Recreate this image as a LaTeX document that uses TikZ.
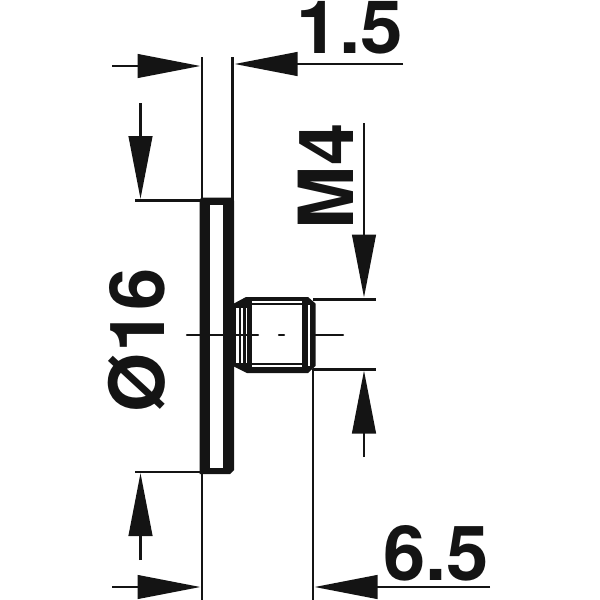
\documentclass[tikz,border=0pt]{standalone}
\usepackage{fontspec}
\setmainfont{TeX Gyre Heros}
\usetikzlibrary{arrows.meta}
\tikzset{
  x=1pt,y=-1pt,
  thinln/.style={line width=2.8pt,line cap=butt,black!92},
  dimarrow/.style={thinln,-{Triangle[length=63pt,width=23.5pt,sep=0pt]}},
  centerln/.style={line width=2.4pt,line cap=round,black!92},
  dimtext/.style={font=\fontsize{76}{76}\selectfont\bfseries,inner sep=0pt,outer sep=0pt,text=black!92},
  toptext/.style={font=\fontsize{73.5}{76}\selectfont\bfseries,inner sep=0pt,outer sep=0pt,text=black!92},
  solidpart/.style={fill=black!92,draw=none},
  slot/.style={fill=white,draw=none},
}
\begin{document}
\begin{tikzpicture}
\useasboundingbox (0,0) rectangle (600,600);
% named end points of the dimension lines
\coordinate (extA1) at (202,57);   \coordinate (extA2) at (202,600);
\coordinate (extB1) at (232.5,57); \coordinate (extB2) at (232.5,204);
\coordinate (extC1) at (313,369);  \coordinate (extC2) at (313,600);
\coordinate (t1) at (112,66);  \coordinate (h1) at (200.5,66);
\coordinate (t2) at (403,64);  \coordinate (h2) at (234.5,64);
\coordinate (t3) at (140.5,103); \coordinate (h3) at (140.5,199);
\coordinate (t4) at (140.5,560); \coordinate (h4) at (140.5,473);
\coordinate (t5) at (112,587); \coordinate (h5) at (200.5,587);
\coordinate (t6) at (490,587); \coordinate (h6) at (314.5,587);
\coordinate (t7) at (364,123); \coordinate (h7) at (364,297.5);
\coordinate (t8) at (364,457); \coordinate (h8) at (364,370.5);
\coordinate (e1) at (135,200.5); \coordinate (e2) at (203,200.5);
\coordinate (e3) at (135,472); \coordinate (e4) at (203,472);
\coordinate (e5) at (313,299.5); \coordinate (e6) at (376,299.5);
\coordinate (e7) at (313,369.5); \coordinate (e8) at (376,369.5);
\coordinate (c1) at (187,335); \coordinate (c2) at (258,335);
\coordinate (c3) at (279,335); \coordinate (c4) at (284,335);
\coordinate (c5) at (311,335); \coordinate (c6) at (343,335);
% extension lines
\draw[thinln] (extA1) -- (extA2);
\draw[thinln] (extB1) -- (extB2);
\draw[thinln] (extC1) -- (extC2);
\draw[thinln] (e1) -- (e2);
\draw[thinln] (e3) -- (e4);
\draw[thinln] (e5) -- (e6);
\draw[thinln] (e7) -- (e8);
% disc
\fill[solidpart] (202,197.5) -- (231,197.5) -- (234,200.5) -- (234,470) -- (230,474) -- (199.5,474) -- (199.5,199.5) -- cycle;
\fill[slot] (210,204.5) rectangle (223,468);
% threaded stud
\fill[solidpart] (233,304) -- (246,297) -- (308,297) -- (315.5,303.5) -- (315.5,366) -- (308,373) -- (247,373) -- (233,366) -- cycle;
\fill[slot] (252,305) rectangle (302,363);
\fill[slot] (252,301) rectangle (302,302.5);
\fill[slot] (252,365) rectangle (302,366.8);
\fill[slot] (235.5,308) rectangle (238.5,363);
\fill[slot] (241,308) rectangle (243,363);
\fill[slot] (245.5,308) rectangle (246.8,363);
\fill[slot] (308,305) rectangle (309.8,366);
% centre line
\draw[centerln] (c1) -- (c2);
\draw[centerln] (c3) -- (c4);
\draw[centerln] (c5) -- (c6);
% dimension arrows
\draw[dimarrow] (t1) -- (h1);
\draw[dimarrow] (t2) -- (h2);
\draw[dimarrow] (t3) -- (h3);
\draw[dimarrow] (t4) -- (h4);
\draw[dimarrow] (t5) -- (h5);
\draw[dimarrow] (t6) -- (h6);
\draw[dimarrow] (t7) -- (h7);
\draw[dimarrow] (t8) -- (h8);
% labels
\node[toptext,anchor=base east] (lab15) at (403,53) {\scalebox{1.04}[1]{1.5}};
\node[dimtext,anchor=base east] (lab65) at (489,580) {6.5};
\node[dimtext,anchor=base west,rotate=90] (labm4) at (353.5,229) {M4};
\node[dimtext,anchor=base west,rotate=90] (lab16) at (164,412) {Ø16};
\end{tikzpicture}
\end{document}
